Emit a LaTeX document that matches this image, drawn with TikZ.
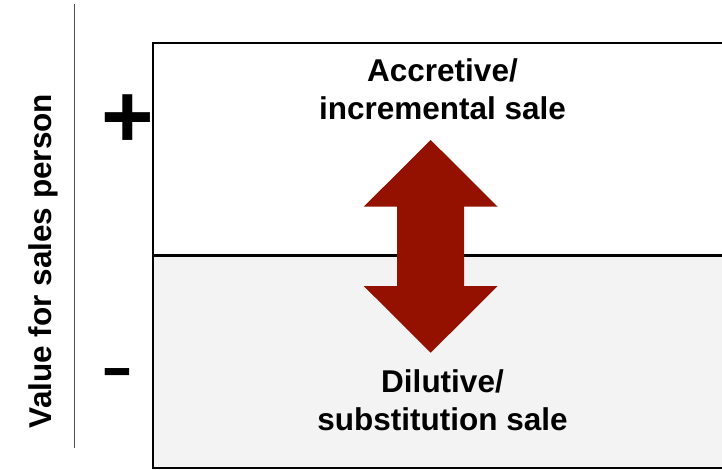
\documentclass[tikz,border=0pt]{standalone}
\usepackage{fontspec}
\setmainfont{Liberation Sans}
\definecolor{arrowred}{RGB}{148,17,0}
\definecolor{lowfill}{RGB}{243,243,243}
\definecolor{axisgray}{RGB}{80,80,80}
\begin{document}
\begin{tikzpicture}[x=1pt,y=-1pt,
  lbl/.style={font=\bfseries\fontsize{31.5}{38}\selectfont, align=center, inner sep=0pt},
  sign/.style={font=\bfseries\fontsize{90}{90}\selectfont, inner sep=0pt}]
\useasboundingbox (0,0) rectangle (722,469);
\clip (0,0) rectangle (722,469);
% lower region
\fill[lowfill] (152.7,255.3) rectangle (730,467.7);
% box
\draw[line width=1.6pt] (152.7,42.7) rectangle (730,467.7);
\draw[line width=3pt] (152.7,255.3) -- (730,255.3);
% axis
\coordinate (axtop) at (74.5,4);
\coordinate (axbot) at (74.5,448);
\draw[axisgray, line width=1pt] (axtop) -- (axbot);
% labels
\node[lbl, rotate=90, anchor=north] (ylab) at (28,261) {Value for sales person};
\node[sign] (plus) at (127.5,121.5) {+};
\node[sign, font=\bfseries\fontsize{96}{96}\selectfont, yscale=0.62] (minus) at (117.5,378.5) {-};
\node[lbl, anchor=north] (acc) at (442.5,58) {Accretive/\\incremental sale};
\node[lbl, anchor=north] (dil) at (442.5,369.5) {Dilutive/\\substitution sale};
% double arrow
\fill[arrowred] (430.7,140) -- (497.7,206.7) -- (464,206.7) -- (464,286) -- (497.7,286)
  -- (430.7,352.7) -- (363.7,286) -- (397,286) -- (397,206.7) -- (363.7,206.7) -- cycle;
\end{tikzpicture}
\end{document}
